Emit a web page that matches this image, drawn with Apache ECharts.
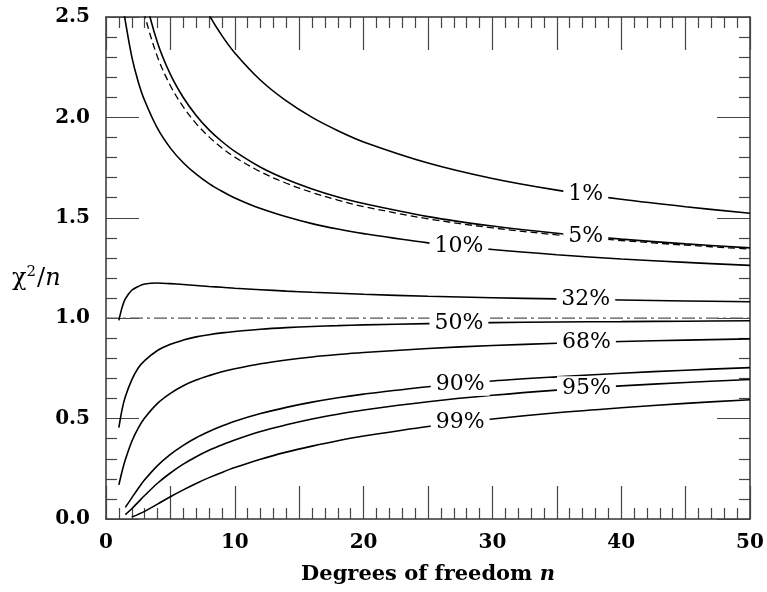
<!DOCTYPE html>
<html>
<head>
<meta charset="utf-8">
<script src="https://cdn.jsdelivr.net/npm/echarts@6/dist/echarts.min.js"></script>
<style>
html,body{margin:0;padding:0;background:#fff;}
#chart{width:767px;height:592px;}
</style>
</head>
<body>
<div id="chart"></div>
<script>
// Degrees of freedom n
var degrees = [1, 1.25, 1.5, 2, 2.5, 3, 4, 5, 6, 7, 8, 9, 10, 12, 14, 16, 18, 20, 25, 30, 35, 40, 45, 50];
// chi^2/n for given p-values
var p01 = [null, null, null, null, null, null, 3.319, 3.017, 2.802, 2.639, 2.511, 2.407, 2.321, 2.185, 2.082, 2.000, 1.934, 1.878, 1.773, 1.696, 1.638, 1.592, 1.555, 1.523];
var p05 = [null, null, null, 2.996, 2.773, 2.605, 2.372, 2.214, 2.099, 2.010, 1.938, 1.880, 1.831, 1.752, 1.692, 1.644, 1.604, 1.571, 1.506, 1.459, 1.423, 1.394, 1.370, 1.350];
var p05dashed = [null, null, null, 2.851, 2.657, 2.510, 2.301, 2.158, 2.052, 1.969, 1.903, 1.848, 1.802, 1.729, 1.672, 1.626, 1.588, 1.556, 1.495, 1.450, 1.415, 1.387, 1.364, 1.344];
var p10 = [2.706, 2.58, 2.48, 2.303, 2.178, 2.084, 1.945, 1.847, 1.774, 1.717, 1.670, 1.632, 1.599, 1.546, 1.505, 1.471, 1.444, 1.421, 1.375, 1.342, 1.316, 1.295, 1.278, 1.263];
var p32 = [0.989, 1.054, 1.096, 1.139, 1.158, 1.170, 1.175, 1.172, 1.168, 1.163, 1.158, 1.154, 1.149, 1.142, 1.135, 1.129, 1.124, 1.119, 1.109, 1.102, 1.096, 1.091, 1.086, 1.082];
var p50 = [0.455, 0.546, 0.609, 0.693, 0.752, 0.789, 0.839, 0.870, 0.891, 0.907, 0.918, 0.927, 0.934, 0.945, 0.953, 0.959, 0.963, 0.967, 0.973, 0.978, 0.981, 0.983, 0.985, 0.987];
var p68 = [0.170, 0.238, 0.295, 0.386, 0.453, 0.503, 0.576, 0.626, 0.664, 0.692, 0.714, 0.733, 0.748, 0.773, 0.792, 0.807, 0.819, 0.829, 0.849, 0.864, 0.875, 0.884, 0.891, 0.897];
var p90 = [null, null, 0.058, 0.105, 0.152, 0.195, 0.266, 0.322, 0.367, 0.405, 0.436, 0.463, 0.487, 0.525, 0.556, 0.582, 0.604, 0.622, 0.659, 0.687, 0.708, 0.726, 0.741, 0.754];
var p95 = [null, null, 0.022, 0.051, 0.084, 0.117, 0.178, 0.229, 0.273, 0.310, 0.342, 0.369, 0.394, 0.436, 0.469, 0.498, 0.522, 0.543, 0.584, 0.616, 0.642, 0.663, 0.680, 0.695];
var p99 = [null, null, null, 0.010, 0.023, 0.038, 0.074, 0.111, 0.145, 0.177, 0.206, 0.232, 0.256, 0.298, 0.333, 0.363, 0.390, 0.413, 0.461, 0.498, 0.529, 0.554, 0.576, 0.594];
// reference line chi^2/n = 1
var unityRange = [0, 50];
var unityValue = 1;
// curve labels and the n at which each label sits on its curve
var curveLabels = ['1%', '5%', '10%', '32%', '50%', '68%', '90%', '95%', '99%'];
var labelN = [37.25, 37.25, 27.4, 37.25, 27.4, 37.3, 27.5, 37.3, 27.5];
var xTickLabels = [0, 10, 20, 30, 40, 50];
var yTickLabels = ['0.0', '0.5', '1.0', '1.5', '2.0', '2.5'];

var curves = [p01, p05, p10, p32, p50, p68, p90, p95, p99];

function pairs(arr) {
  var out = [];
  for (var i = 0; i < degrees.length; i++) out.push([degrees[i], arr[i]]);
  return out;
}
function interp(arr, n) {
  for (var i = 0; i < degrees.length - 1; i++) {
    if (n >= degrees[i] && n <= degrees[i + 1] && arr[i] != null && arr[i + 1] != null) {
      var t = (n - degrees[i]) / (degrees[i + 1] - degrees[i]);
      return arr[i] + t * (arr[i + 1] - arr[i]);
    }
  }
  return null;
}

var FONT = 'DejaVu Serif';
var axisCol = '#333';
var tickStyle = { color: '#444', width: 1.2 };

function xAx(pos, showLabel) {
  return {
    type: 'value', position: pos, min: 0, max: 50, interval: 5,
    axisLine: { show: true, onZero: false, lineStyle: { color: axisCol, width: 1.5 } },
    axisTick: { show: true, inside: true, length: 33, lineStyle: tickStyle },
    minorTick: { show: true, splitNumber: 5, length: 11, lineStyle: tickStyle },
    splitLine: { show: false }, minorSplitLine: { show: false },
    axisLabel: {
      show: showLabel, margin: 14, fontFamily: FONT, fontWeight: 'bold', fontSize: 20, color: '#000',
      formatter: function (v) { return xTickLabels.indexOf(v) >= 0 ? String(v) : ''; }
    }
  };
}
function yAx(pos, showLabel) {
  return {
    type: 'value', position: pos, min: 0, max: 2.5, interval: 0.5,
    axisLine: { show: true, onZero: false, lineStyle: { color: axisCol, width: 1.5 } },
    axisTick: { show: true, inside: true, length: 33, lineStyle: tickStyle },
    minorTick: { show: true, splitNumber: 5, length: 11, lineStyle: tickStyle },
    splitLine: { show: false }, minorSplitLine: { show: false },
    axisLabel: {
      show: showLabel, margin: 16, fontFamily: FONT, fontWeight: 'bold', fontSize: 20, color: '#000',
      formatter: function (v) { return yTickLabels[Math.round(v / 0.5)]; }
    }
  };
}

var series = [];
curves.forEach(function (c) {
  series.push({
    type: 'line', data: pairs(c), showSymbol: false, smooth: 0.35,
    lineStyle: { color: '#000', width: 1.6 }, z: 3, silent: true
  });
});
series.push({
  type: 'line', data: pairs(p05dashed), showSymbol: false, smooth: 0.35,
  lineStyle: { color: '#000', width: 1.3, type: [7, 4] }, z: 2, silent: true
});
series.push({
  type: 'line', data: [[unityRange[0], unityValue], [unityRange[1], unityValue]], showSymbol: false,
  lineStyle: { color: '#555', width: 1.3, type: [13, 4, 3, 4] }, z: 2, silent: true
});
var labelData = curveLabels.map(function (t, i) {
  return [labelN[i], interp(curves[i], labelN[i]), t];
});
series.push({
  type: 'scatter', data: labelData, symbolSize: 0, itemStyle: { color: '#fff', opacity: 1 }, z: 10, silent: true,
  label: {
    show: true, position: 'inside', color: '#000', opacity: 1, fontFamily: FONT, fontSize: 22,
    textBorderWidth: 0, backgroundColor: '#fff', padding: [1, 5],
    formatter: function (p) { return p.data[2]; }
  },
  emphasis: { disabled: true }
});

var chart = echarts.init(document.getElementById('chart'), null, { renderer: 'canvas' });
chart.setOption({
  animation: false,
  backgroundColor: '#fff',
  grid: { left: 106, right: 17, top: 17, bottom: 73, containLabel: false },
  xAxis: [
    Object.assign(xAx('bottom', true), {
      name: '{b|Degrees of freedom }{i|n}', nameLocation: 'middle', nameGap: 45,
      nameTextStyle: {
        rich: {
          b: { fontFamily: FONT, fontWeight: 'bold', fontSize: 21, color: '#000' },
          i: { fontFamily: FONT, fontStyle: 'italic', fontWeight: 'bold', fontSize: 21, color: '#000' }
        }
      }
    }),
    xAx('top', false)
  ],
  yAxis: [yAx('left', true), yAx('right', false)],
  graphic: [{
    type: 'text', left: 12, top: 265, silent: true,
    style: {
      text: '{a|χ}{s|2}{a|/}{i|n}',
      rich: {
        a: { fontFamily: FONT, fontSize: 24, color: '#000' },
        s: { fontFamily: FONT, fontSize: 15, color: '#000', padding: [0, 1, 12, 0] },
        i: { fontFamily: FONT, fontStyle: 'italic', fontSize: 24, color: '#000' }
      }
    }
  }],
  series: series
});
</script>
</body>
</html>
